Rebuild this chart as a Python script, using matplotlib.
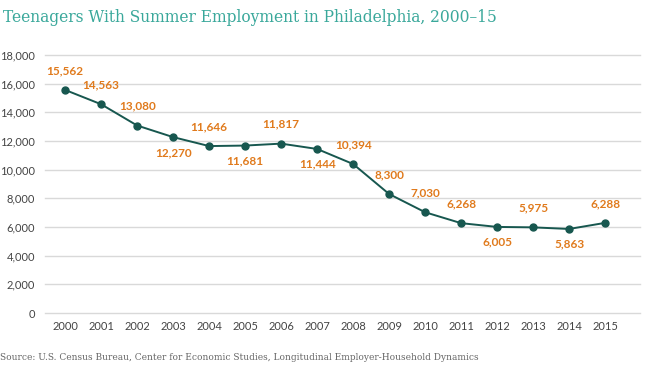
import matplotlib.pyplot as plt

# dane
years = [2000, 2001, 2002, 2003, 2004, 2005, 2006, 2007,
         2008, 2009, 2010, 2011, 2012, 2013, 2014, 2015]
teens = [15562, 14563, 13080, 12270, 11646, 11681, 11817, 11444,
         10394, 8300, 7030, 6268, 6005, 5975, 5863, 6288]
# etykieta nad (True) czy pod punktem (False)
label_above = [True, True, True, False, True, False, True, False,
               True, True, True, True, False, True, False, True]

line_color = '#17574f'
label_color = '#e07a1c'
title_color = '#3aa89b'
grid_color = '#d9d9d9'

fig = plt.figure(figsize=(6.5, 3.7), dpi=100)
ax = fig.add_axes([45 / 650, 1 - 313 / 370, 595 / 650, 258 / 370])

ax.plot(years, teens, color=line_color, linewidth=1.4, marker='o',
        markersize=5, zorder=3)

for x, y, up in zip(years, teens, label_above):
    off = 14 if up else -11
    ax.annotate(f'{y:,}', (x, y), xytext=(0, off), textcoords='offset points',
                ha='center', va='center', color=label_color,
                fontsize=8.5, fontweight='bold', family='Lato')

ax.set_xlim(1999.44, 2015.97)
ax.set_ylim(0, 18000)
ax.set_xticks(years)
ax.set_xticklabels([str(y) for y in years])
ax.set_yticks(range(0, 18001, 2000))
ax.set_yticklabels([f'{v:,}' for v in range(0, 18001, 2000)])
ax.yaxis.grid(True, color=grid_color, linewidth=1)
for gl in ax.get_ygridlines():
    gl.set_clip_on(False)
ax.set_axisbelow(True)
for s in ax.spines.values():
    s.set_visible(False)
ax.tick_params(length=0, labelsize=8, labelcolor='#444444')
ax.tick_params(axis='x', pad=6)
ax.tick_params(axis='y', pad=7)
for lbl in ax.get_xticklabels() + ax.get_yticklabels():
    lbl.set_family('Lato')

fig.text(3 / 650, 1 - 17 / 370, 'Teenagers With Summer Employment in Philadelphia, 2000\u201315',
         color=title_color, fontsize=11.2, family='DejaVu Serif', va='center')
fig.text(0, 1 - 358 / 370,
         'Source: U.S. Census Bureau, Center for Economic Studies, Longitudinal Employer-Household Dynamics',
         color='#666666', fontsize=6.5, family='DejaVu Serif', va='center')

fig.savefig('out.png', dpi=100)
